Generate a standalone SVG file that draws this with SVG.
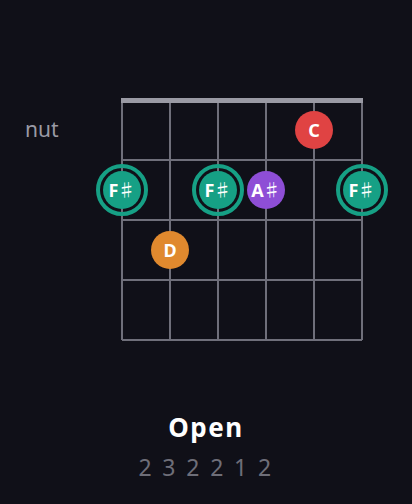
<svg xmlns="http://www.w3.org/2000/svg" width="412" height="504" viewBox="0 0 412 504">
<style>
.grid{stroke:#6f6f7a;stroke-width:2;fill:none}
.lbl{font-family:"Noto Sans","DejaVu Sans",sans-serif;font-weight:bold;font-size:18px;fill:#ffffff;text-anchor:middle}
.sh{font-family:"Noto Sans CJK JP","DejaVu Sans",sans-serif;font-weight:normal}
.ring{fill:none;stroke:#16a085;stroke-width:4}
</style>
<rect width="412" height="504" fill="#101018"/>
<g id="grid">
<line class="grid" x1="122" y1="100" x2="122" y2="340"/>
<line class="grid" x1="170" y1="100" x2="170" y2="340"/>
<line class="grid" x1="218" y1="100" x2="218" y2="340"/>
<line class="grid" x1="266" y1="100" x2="266" y2="340"/>
<line class="grid" x1="314" y1="100" x2="314" y2="340"/>
<line class="grid" x1="362" y1="100" x2="362" y2="340"/>
<line class="grid" x1="122" y1="160" x2="362" y2="160"/>
<line class="grid" x1="122" y1="220" x2="362" y2="220"/>
<line class="grid" x1="122" y1="280" x2="362" y2="280"/>
<line class="grid" x1="122" y1="340" x2="362" y2="340"/>
<rect x="121" y="98" width="242" height="5" fill="#9a9aa4"/>
</g>
<text x="25" y="137" font-family="'Noto Sans','DejaVu Sans',sans-serif" font-size="21" fill="#9a9aa4">nut</text>
<g id="note-C">
<circle cx="314" cy="130" r="19" fill="#e04343"/>
<text class="lbl" x="314" y="136.5">C</text>
</g>
<g id="note-Fs1">
<circle class="ring" cx="122" cy="190" r="24"/>
<circle cx="122" cy="190" r="19" fill="#16a085"/>
<text class="lbl" x="122" y="196.5">F<tspan class="sh" dx="-1">♯</tspan></text>
</g>
<g id="note-Fs2">
<circle class="ring" cx="218" cy="190" r="24"/>
<circle cx="218" cy="190" r="19" fill="#16a085"/>
<text class="lbl" x="218" y="196.5">F<tspan class="sh" dx="-1">♯</tspan></text>
</g>
<g id="note-As">
<circle cx="266" cy="190" r="19" fill="#8e4ed6"/>
<text class="lbl" x="266" y="196.5">A<tspan class="sh" dx="-1">♯</tspan></text>
</g>
<g id="note-Fs3">
<circle class="ring" cx="362" cy="190" r="24"/>
<circle cx="362" cy="190" r="19" fill="#16a085"/>
<text class="lbl" x="362" y="196.5">F<tspan class="sh" dx="-1">♯</tspan></text>
</g>
<g id="note-D">
<circle cx="170" cy="250" r="19" fill="#e0892e"/>
<text class="lbl" x="170" y="256.5">D</text>
</g>
<text x="206" y="437" text-anchor="middle" font-family="'Noto Sans','DejaVu Sans',sans-serif" font-weight="bold" font-size="26" letter-spacing="1.5" fill="#ffffff">Open</text>
<text x="206" y="476" text-anchor="middle" font-family="'Noto Sans','DejaVu Sans',sans-serif" font-size="23" letter-spacing="2.4" fill="#6e6e78">2 3 2 2 1 2</text>
</svg>
